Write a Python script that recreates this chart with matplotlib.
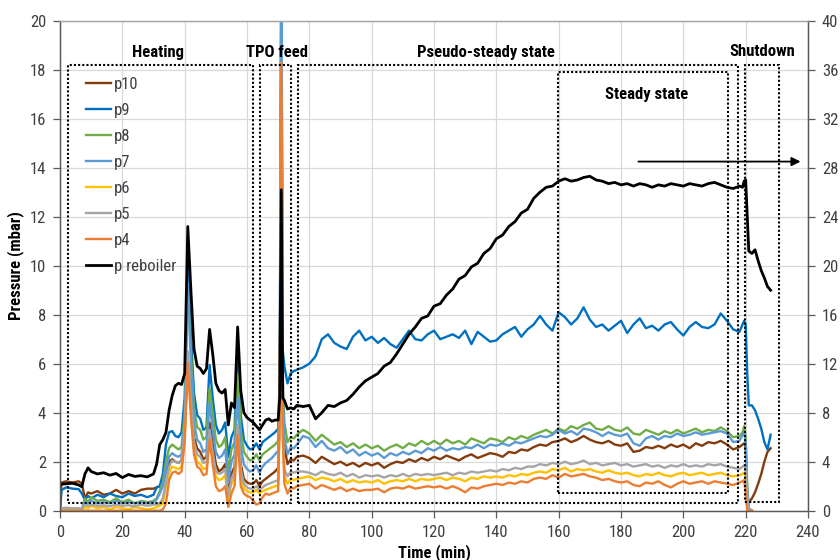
import numpy as np
import matplotlib
matplotlib.use("Agg")
import matplotlib.pyplot as plt
from matplotlib.patches import Rectangle
from matplotlib import font_manager

# ---------------------------------------------------------------- data
# sampling instants (min): heating, TPO feed, pseudo-steady/steady, shutdown
minutes = ([0, 0.5, 2, 4, 6, 7, 8, 9, 10, 12, 14, 16, 18, 20, 22, 24, 26, 28, 30]
           + list(range(31, 71)) + [70.5, 71, 71.5, 72, 73, 74, 75, 76]
           + list(range(78, 219, 2))
           + [219, 219.5, 220, 220.5, 221, 222, 223, 224, 225, 226, 227, 228])

nan = np.nan

p10 = [0, 1.15, 1.2, 1.15, 1.2, 1.1, 0.5, 0.75, 0.7, 0.8, 0.65, 0.7, 0.85, 0.7, 0.8, 0.7, 0.85, 0.9, 0.9,
       0.95, 1.0, 1.1, 1.6, 2.0, 2.1, 2.0, 1.95, 2.05, 3.3,
       6.2, 4.6, 3.0, 2.55, 2.4, 2.1, 2.2, 3.6, 2.8, 1.9,
       1.6, 1.7, 1.9, 0.7, 1.5, 1.8, 3.4, 1.9, 1.3, 1.15,
       1.1, 1.1, 1.25, 1.0, 1.2, 1.3, 1.4, 1.5, 1.6, 1.75,
       4.0, 17.0, 3.5, 2.6, 1.9, 2.1, 2.05, 2.2,
       2.25, 2.15, 1.95, 2.2, 2.05, 1.9, 2.0, 1.85, 1.95, 1.8,
       1.95, 1.85, 1.95, 1.75, 1.9, 2.0, 1.95, 2.1, 2.0, 2.15,
       2.05, 2.2, 2.1, 2.25, 2.15, 2.05, 2.2, 2.3, 2.15, 2.25,
       2.35, 2.3, 2.2, 2.4, 2.35, 2.5, 2.45, 2.6, 2.7, 2.65,
       2.8, 2.85, 2.95, 2.8, 2.9, 3.05, 2.9, 2.8, 2.75, 2.85,
       2.7, 2.65, 2.75, 2.4, 2.45, 2.6, 2.55, 2.65, 2.55, 2.7,
       2.6, 2.7, 2.55, 2.75, 2.65, 2.8, 2.75, 2.85, 2.7, 2.5,
       2.6,
       2.7, 2.75, 2.6, 0.6, 0.35, 0.5, 0.75, 1.1, 1.5, 2.0, 2.4, 2.55]

p9 = [0.0, 0.85, 0.95, 0.9, 0.88, 0.7, 0.45, 0.6, 0.5, 0.65, 0.55, 0.7, 0.6, 0.55, 0.7, 0.6, 0.65, 0.55, 0.65,
      0.95, 1.0, 1.5, 2.7, 3.2, 3.25, 3.05, 3.0, 3.2, 4.6,
      9.9, 7.2, 4.8, 3.9, 3.75, 3.3, 3.4, 5.95, 4.6, 3.5,
      3.15, 3.3, 3.6, 2.2, 3.0, 3.3, 6.7, 3.9, 2.9, 2.65,
      2.5, 2.55, 2.75, 2.5, 2.8, 2.9, 3.0, 3.1, 3.2, 3.35,
      5.5, 22.0, 6.5, 5.9, 5.2, 5.6, 5.7, 5.75,
      5.85, 6.0, 6.3, 7.0, 7.2, 6.85, 6.7, 6.6, 7.1, 7.35,
      6.95, 7.1, 6.85, 7.05, 6.8, 6.65, 7.0, 7.35, 7.0, 6.95,
      7.2, 7.35, 7.0, 7.1, 7.2, 7.05, 7.35, 6.8, 7.3, 7.1,
      6.9, 6.95, 7.2, 7.35, 7.5, 7.1, 7.4, 7.6, 7.95, 7.6,
      7.35, 8.1, 7.9, 7.6, 7.85, 8.3, 7.8, 7.5, 7.6, 7.35,
      7.55, 7.75, 7.25, 7.6, 7.85, 7.45, 7.55, 7.35, 7.6, 7.7,
      7.4, 7.15, 7.5, 7.7, 7.5, 7.45, 7.6, 8.05, 7.75, 7.4,
      7.3,
      7.6, 7.75, 7.6, 5.6, 4.3, 4.3, 4.1, 3.75, 3.35, 2.8, 2.5, 3.1]

p8 = [0, 0, 0, 0, 0, 0.05, 0.5, 0.35, 0.55, 0.4, 0.45, 0.35, 0.5, 0.35, 0.45, 0.3, 0.4, 0.35, 0.4,
      0.5, 0.8, 1.2, 2.0, 2.55, 2.7, 2.6, 2.5, 2.6, 4.0,
      9.2, 6.5, 4.2, 3.4, 3.3, 2.9, 3.0, 5.0, 4.0, 2.9,
      2.6, 2.7, 3.0, 1.6, 2.5, 2.8, 5.6, 3.3, 2.4, 2.2,
      2.05, 2.1, 2.3, 2.05, 2.3, 2.4, 2.5, 2.6, 2.7, 2.85,
      4.5, 20.5, 5.0, 3.6, 2.8, 3.0, 2.95, 3.1,
      3.3, 3.15, 2.85, 3.1, 2.9, 2.7, 2.8, 2.6, 2.75, 2.55,
      2.7, 2.55, 2.65, 2.45, 2.6, 2.7, 2.55, 2.75, 2.65, 2.85,
      2.7, 2.85, 2.7, 2.9, 2.75, 2.85, 2.7, 2.95, 2.85, 2.75,
      2.95, 2.9, 2.8, 3.0, 2.9, 3.05, 2.95, 3.1, 3.2, 3.3,
      3.15, 3.35, 3.25, 3.45, 3.35, 3.5, 3.6, 3.35, 3.3, 3.45,
      3.3, 3.25, 3.4, 3.15, 3.1, 3.3, 3.2, 3.1, 3.25, 3.15,
      3.3, 3.15, 3.25, 3.35, 3.2, 3.3, 3.25, 3.4, 3.25, 3.0,
      3.05,
      3.2, 3.45, 3.0, 1.0, 0.1, 0.0, nan, nan, nan, nan, nan, nan]

p7 = [0, 0, 0, 0, 0, 0.05, 0.35, 0.3, 0.4, 0.3, 0.35, 0.3, 0.4, 0.3, 0.35, 0.3, 0.35, 0.3, 0.35,
      0.45, 0.7, 1.0, 1.7, 2.2, 2.35, 2.25, 2.2, 2.3, 3.6,
      9.3, 6.0, 3.6, 2.9, 2.75, 2.4, 2.5, 4.4, 3.3, 2.4,
      2.15, 2.25, 2.5, 1.2, 2.0, 2.3, 4.6, 2.6, 1.9, 1.7,
      1.6, 1.65, 1.85, 1.55, 1.8, 1.95, 2.05, 2.15, 2.3, 2.45,
      4.5, 25.0, 4.5, 3.0, 2.3, 2.6, 2.55, 2.7,
      3.05, 2.95, 2.6, 2.85, 2.55, 2.45, 2.6, 2.35, 2.5, 2.25,
      2.4, 2.25, 2.35, 2.15, 2.35, 2.25, 2.4, 2.3, 2.45, 2.35,
      2.55, 2.45, 2.6, 2.45, 2.55, 2.5, 2.6, 2.55, 2.7, 2.55,
      2.7, 2.65, 2.75, 2.65, 2.8, 2.75, 2.85, 2.95, 3.05, 3.0,
      3.1, 3.3, 3.15, 3.25, 3.1, 3.35, 3.3, 3.2, 3.05, 3.2,
      3.1, 3.05, 3.15, 2.75, 2.65, 2.95, 3.05, 2.9, 3.05, 3.0,
      3.15, 3.05, 3.1, 3.2, 3.1, 3.15, 3.2, 3.25, 3.15, 2.8,
      2.85,
      3.1, 3.2, 2.8, 0.8, 0.1, 0.0, nan, nan, nan, nan, nan, nan]

p6 = [0, 0, 0, 0, 0, 0, 0.15, 0.1, 0.2, 0.1, 0.15, 0.05, 0.15, 0.1, 0.05, 0.15, 0.1, 0.05, 0.1,
      0.15, 0.2, 0.3, 1.0, 1.55, 1.8, 1.75, 1.7, 1.8, 3.0,
      6.0, 4.2, 2.5, 2.0, 1.9, 1.7, 1.75, 3.1, 2.2, 1.4,
      1.25, 1.3, 1.45, 0.45, 1.1, 1.4, 3.3, 1.5, 0.9, 0.8,
      0.75, 0.75, 0.85, 0.7, 0.8, 0.85, 0.9, 0.95, 1.0, 1.05,
      4.0, 16.0, 3.0, 1.4, 1.1, 1.3, 1.25, 1.3,
      1.35, 1.4, 1.25, 1.35, 1.3, 1.2, 1.3, 1.15, 1.25, 1.15,
      1.2, 1.15, 1.25, 1.1, 1.2, 1.25, 1.2, 1.3, 1.2, 1.3,
      1.25, 1.3, 1.35, 1.25, 1.35, 1.3, 1.2, 1.35, 1.3, 1.4,
      1.35, 1.4, 1.35, 1.45, 1.4, 1.5, 1.45, 1.55, 1.6, 1.55,
      1.7, 1.65, 1.75, 1.6, 1.7, 1.65, 1.7, 1.6, 1.55, 1.65,
      1.55, 1.5, 1.55, 1.45, 1.4, 1.5, 1.45, 1.55, 1.45, 1.4,
      1.5, 1.55, 1.45, 1.5, 1.55, 1.45, 1.5, 1.55, 1.45, 1.4,
      1.45,
      1.5, 1.55, 1.4, 0.3, 0.0, 0.0, nan, nan, nan, nan, nan, nan]

p5 = [0.1, 0.1, 0.12, 0.1, 0.1, 0.08, 0.25, 0.2, 0.25, 0.2, 0.22, 0.18, 0.25, 0.2, 0.22, 0.18, 0.25, 0.2, 0.25,
      0.25, 0.3, 0.5, 1.2, 1.8, 2.05, 2.0, 1.95, 2.05, 3.3,
      6.5, 4.5, 2.8, 2.3, 2.2, 1.95, 2.0, 3.3, 2.4, 1.6,
      1.5, 1.55, 1.7, 0.6, 1.3, 1.6, 3.5, 1.7, 1.1, 0.95,
      0.9, 0.9, 1.0, 0.85, 0.95, 1.05, 1.1, 1.15, 1.2, 1.25,
      4.0, 17.0, 3.0, 1.7, 1.4, 1.6, 1.55, 1.6,
      1.6, 1.55, 1.45, 1.6, 1.5, 1.45, 1.55, 1.4, 1.5, 1.35,
      1.45, 1.4, 1.45, 1.35, 1.45, 1.4, 1.5, 1.4, 1.5, 1.45,
      1.5, 1.45, 1.5, 1.55, 1.45, 1.55, 1.5, 1.6, 1.55, 1.6,
      1.65, 1.6, 1.7, 1.65, 1.75, 1.7, 1.8, 1.8, 1.9, 1.85,
      1.95, 1.9, 2.0, 1.9, 1.95, 2.05, 1.9, 1.95, 1.85, 1.9,
      1.95, 1.85, 1.9, 1.8, 1.85, 1.9, 1.8, 1.85, 1.75, 1.85,
      1.8, 1.9, 1.8, 1.85, 1.8, 1.9, 1.85, 1.9, 1.8, 1.75,
      1.7,
      1.8, 1.85, 1.7, 0.5, 0.05, 0.0, nan, nan, nan, nan, nan, nan]

p4 = [0] * 19 + [
      0.0, 0.0, 0.05, 0.3, 1.25, 1.55, 1.6, 1.5, 1.6, 2.8,
      6.0, 3.8, 2.3, 1.8, 1.7, 1.45, 1.5, 2.9, 1.9, 1.0,
      0.8, 0.85, 1.0, 0.15, 0.7, 1.0, 3.1, 1.0, 0.7, 0.6,
      0.55, 0.4, 0.25, 0.3, 0.55, 0.7, 0.65, 0.7, 0.75, 0.8,
      4.0, 18.3, 3.0, 1.1, 0.7, 0.95, 0.9, 1.0,
      1.05, 1.1, 0.9, 1.05, 0.95, 0.85, 0.95, 0.8, 0.9, 0.8,
      0.85, 0.85, 0.9, 0.75, 0.9, 0.95, 0.9, 1.0, 0.9, 0.95,
      1.0, 0.95, 1.0, 0.9, 1.0, 0.9, 0.75, 0.95, 0.9, 1.0,
      1.05, 1.1, 1.05, 1.15, 1.1, 1.2, 1.15, 1.3, 1.35, 1.3,
      1.45, 1.35, 1.5, 1.4, 1.45, 1.5, 1.4, 1.35, 1.25, 1.3,
      1.2, 1.15, 1.2, 1.05, 1.0, 1.15, 1.1, 1.2, 1.05, 0.95,
      1.1, 1.2, 1.1, 1.15, 1.2, 1.1, 1.2, 1.15, 1.1, 1.05,
      1.15,
      1.2, 1.25, 0.8, 0.0, 0.0, 0.0, nan, nan, nan, nan, nan, nan]

# reboiler pressure, read on the secondary axis (mbar)
p_reboiler = [2.1, 2.16, 2.2, 2.24, 2.1, 1.96, 3.0, 3.5, 3.2, 3.0, 3.1, 2.9, 3.04, 2.7, 2.96, 2.8, 2.86, 2.76, 3.0,
              3.8, 5.4, 5.8, 6.4, 8.2, 9.4, 10.2, 10.4, 10.3, 11.2,
              23.2, 18.0, 13.2, 11.8, 11.6, 11.2, 11.6, 14.8, 12.8, 10.4,
              9.8, 9.6, 9.9, 7.0, 8.8, 8.4, 15.0, 9.8, 8.0, 7.6,
              7.4, 7.2, 6.9, 6.6, 7.0, 7.4, 7.5, 7.3, 7.4, 7.4,
              9.2, 26.2, 9.2, 9.0, 8.3, 8.4, 8.3, 8.6,
              8.5, 8.6, 7.5, 8.0, 8.6, 8.5, 8.8, 9.0, 9.5, 10.1,
              10.6, 10.9, 11.2, 11.8, 12.1, 12.8, 13.6, 14.4, 15.0, 15.7,
              15.9, 16.7, 16.9, 17.6, 18.1, 18.9, 19.2, 19.9, 20.2, 21.0,
              21.4, 22.2, 22.5, 23.2, 23.6, 24.3, 24.6, 25.5, 26.0, 26.4,
              26.5, 26.9, 27.1, 26.9, 27.0, 27.2, 27.3, 27.0, 26.9, 26.7,
              26.8, 26.6, 26.7, 26.5, 26.7, 26.6, 26.4, 26.6, 26.5, 26.7,
              26.6, 26.5, 26.7, 26.6, 26.5, 26.7, 26.8, 26.6, 26.4, 26.3,
              26.5,
              26.4, 26.9, 27.0, 24.0, 21.2, 21.0, 21.3, 20.4, 19.6, 19.0, 18.3, 18.0]

series_names = ["p10", "p9", "p8", "p7", "p6", "p5", "p4"]
series_colors = ["#843c0c", "#0070c0", "#70ad47", "#5b9bd5", "#ffc000", "#a5a5a5", "#ed7d31"]

# process phases: (label, x0, x1, y0, y1, label_x, label_y)
phases = [
    ("Heating", 2.7, 62.0, 0.3, 18.2, 31.4, 18.72),
    ("TPO feed", 64.1, 74.0, 0.3, 18.2, 69.6, 18.72),
    ("Pseudo-steady state", 76.5, 217.4, 0.3, 18.2, 136.8, 18.72),
    ("Steady state", 159.7, 214.3, 0.73, 17.9, 188.2, 16.97),
    ("Shutdown", 219.7, 230.7, 0.34, 18.2, 225.3, 18.75),
]

# ---------------------------------------------------------------- style
available = {f.name for f in font_manager.fontManager.ttflist}
narrow_candidates = ["Liberation Sans Narrow", "Arial Narrow", "Roboto Condensed",
                     "Open Sans Condensed", "DejaVu Sans Condensed"]
narrow_candidates += sorted(n for n in available if ("Narrow" in n or "Condensed" in n))
base_font = next((n for n in narrow_candidates if n in available), None)
stretch = "normal"
if base_font is None:
    # fall back to the condensed face of DejaVu Sans if it is registered under the main name
    cond = [f for f in font_manager.fontManager.ttflist
            if f.name == "DejaVu Sans" and "condensed" in str(f.stretch)]
    if cond:
        base_font, stretch = "DejaVu Sans", "condensed"
    else:
        base_font = "Liberation Sans"
plt.rcParams["font.family"] = [base_font, "DejaVu Sans"]
plt.rcParams["font.stretch"] = stretch

TEXT = "#404040"
SPINE = "#595959"
GRID = "#d9d9d9"
FS = 12

fig = plt.figure(figsize=(8.4, 5.6), dpi=100)
ax = fig.add_axes([60 / 840, 1 - 510.7 / 560, 748 / 840, 490 / 560])
ax2 = ax.twinx()

t = np.array(minutes, dtype=float)
handles = []
for name, vals, col in zip(series_names, [p10, p9, p8, p7, p6, p5, p4], series_colors):
    (ln,) = ax.plot(t, np.array(vals, dtype=float), color=col, lw=1.7, label=name,
                    solid_joinstyle="round")
    handles.append(ln)
(lb,) = ax2.plot(t, np.array(p_reboiler, dtype=float), color="black", lw=2.0,
                 label="p reboiler", solid_joinstyle="round")
handles.append(lb)

ax.set_xlim(0, 240)
ax.set_ylim(0, 20)
ax2.set_ylim(0, 40)
ax.set_xticks(range(0, 241, 20))
ax.set_yticks(range(0, 21, 2))
ax2.set_yticks(range(0, 41, 4))

ax.grid(True, color=GRID, lw=0.9)
ax.set_axisbelow(True)

for a in (ax, ax2):
    a.tick_params(direction="out", length=5, width=0.9, color=SPINE,
                  labelcolor=TEXT, labelsize=FS, pad=5)
    for s in a.spines.values():
        s.set_color(SPINE)
        s.set_linewidth(0.9)
    a.spines["top"].set_color("#a6a6a6")

ax.set_xlabel("Time (min)", fontsize=FS, fontweight="bold", color="black", labelpad=3)
ax.set_ylabel("Pressure (mbar)", fontsize=FS, fontweight="bold", color="black", labelpad=4)

# phase boxes and labels
for label, x0, x1, y0, y1, lx, ly in phases:
    ax.add_patch(Rectangle((x0, y0), x1 - x0, y1 - y0, fill=False, ec="black",
                           lw=1.5, ls=(0, (1, 1)), zorder=3))
    ax.text(lx, ly, label, ha="center", va="center", fontsize=FS,
            fontweight="bold", color="black", zorder=4)

# arrow pointing to the secondary axis
ax2.annotate("", xy=(238.5, 28.5), xytext=(184.7, 28.5),
             arrowprops=dict(arrowstyle="-|>", color="black", lw=1.3, mutation_scale=13),
             annotation_clip=False)

leg = ax2.legend(handles=handles, loc="upper left", bbox_to_anchor=(0.035, 0.885),
                 frameon=False, fontsize=FS, handlelength=1.5, handletextpad=0.15,
                 labelspacing=0.66, borderpad=0, borderaxespad=0)
for txt in leg.get_texts():
    txt.set_color(TEXT)

fig.savefig("out.png", dpi=100)
